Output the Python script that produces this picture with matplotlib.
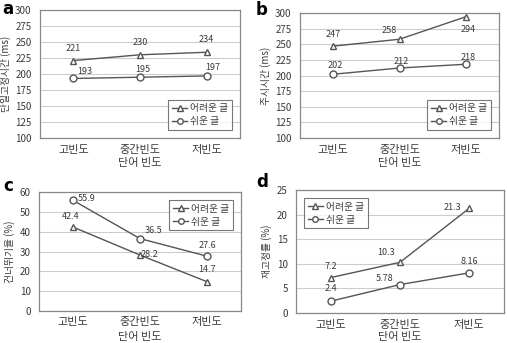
import matplotlib.pyplot as plt

plt.rcParams['font.family'] = ['Noto Sans CJK KR', 'DejaVu Sans']

categories = ['고빈도', '중간빈도', '저빈도']
labels = ['어려운 글', '쉬운 글']
xlabel = '단어 빈도'

a_hard = [221, 230, 234]
a_easy = [193, 195, 197]
b_hard = [247, 258, 294]
b_easy = [202, 212, 218]
c_hard = [42.4, 28.2, 14.7]
c_easy = [55.9, 36.5, 27.6]
d_hard = [7.2, 10.3, 21.3]
d_easy = [2.4, 5.78, 8.16]
d_hard_txt = ['7.2', '10.3', '21.3']
d_easy_txt = ['2.4', '5.78', '8.16']

W, H = 507, 343
fig = plt.figure(figsize=(W / 100, H / 100), dpi=100)

line_c = '#555555'
text_c = '#3a3a3a'


def make_ax(l, t, r, b):
    return fig.add_axes([l / W, 1 - b / H, (r - l) / W, (b - t) / H])


def panel(ax, hard, easy, hard_txt, easy_txt, hard_off, easy_off, ylim, yticks,
          ylabel, legloc, xpad, xlab_y):
    x = range(len(categories))
    ax.plot(x, hard, color=line_c, lw=1, marker='^', ms=5, mfc='white', mec=line_c,
            mew=1, label=labels[0], zorder=3)
    ax.plot(x, easy, color=line_c, lw=1, marker='o', ms=5, mfc='white', mec=line_c,
            mew=1, label=labels[1], zorder=3)
    for xi, v, t, off in zip(x, hard, hard_txt, hard_off):
        ax.annotate(t, (xi, v), xytext=off, textcoords='offset pixels', ha='center',
                    va='center', fontsize=6.5, color=text_c)
    for xi, v, t, off in zip(x, easy, easy_txt, easy_off):
        ax.annotate(t, (xi, v), xytext=off, textcoords='offset pixels', ha='center',
                    va='center', fontsize=6.5, color=text_c)
    ax.set_xlim(-0.5, 2.5)
    ax.set_ylim(*ylim)
    ax.set_yticks(yticks)
    ax.set_xticks(list(x))
    ax.set_xticklabels(categories, fontsize=8, color=text_c)
    ax.tick_params(axis='y', labelsize=7, colors=text_c, length=0, pad=6)
    ax.tick_params(axis='x', length=0, pad=xpad)
    ax.set_ylabel(ylabel, fontsize=7, color=text_c, labelpad=3)
    # x label placed by hand just under the tick labels
    ax.text(0.5, xlab_y, xlabel, transform=ax.transAxes, fontsize=8, color=text_c,
            ha='center', va='center')
    ax.grid(axis='y', color='#cccccc', lw=0.8)
    ax.set_axisbelow(True)
    for s in ax.spines.values():
        s.set_color('#888888')
        s.set_linewidth(0.9)
    leg = ax.legend(loc=legloc, fontsize=7, frameon=True, fancybox=False,
                    handlelength=1.6, borderpad=0.4, labelspacing=0.3,
                    handletextpad=0.3, borderaxespad=0.8, markerscale=0.8)
    leg.get_frame().set_edgecolor('#555555')
    leg.get_frame().set_linewidth(0.8)
    for t in leg.get_texts():
        t.set_color(text_c)


ax_a = make_ax(40, 10, 240, 138)
panel(ax_a, a_hard, a_easy, [str(v) for v in a_hard], [str(v) for v in a_easy],
      [(0, 12), (0, 12), (0, 13)], [(11, 7), (3, 8), (6, 8)],
      (100, 300), range(100, 301, 25), '단일고정시간 (ms)', 'lower right', 5,
      -25 / 128)

ax_b = make_ax(300, 13, 499, 138)
panel(ax_b, b_hard, b_easy, [str(v) for v in b_hard], [str(v) for v in b_easy],
      [(0, 12), (-10, 9), (2, -13)], [(2, 9), (2, 7), (2, 7)],
      (100, 300), range(100, 301, 25), '주시시간 (ms)', 'lower right', 5,
      -25 / 125)

ax_c = make_ax(39, 192, 241, 311)
panel(ax_c, c_hard, c_easy, [str(v) for v in c_hard], [str(v) for v in c_easy],
      [(-2, 10), (9, 1), (0, 12)], [(14, 2), (14, 8), (0, 11)],
      (0, 60), range(0, 61, 10), '건너뛰기율 (%)', 'upper right', 4,
      -26 / 119)

ax_d = make_ax(296, 190, 504, 313)
panel(ax_d, d_hard, d_easy, d_hard_txt, d_easy_txt,
      [(0, 11), (-14, 10), (-17, 1)], [(0, 13), (-15, 6), (0, 11)],
      (0, 25), range(0, 26, 5), '재고정률 (%)', 'upper left', 5,
      -24 / 123)

for letter, px, py in [('a', 2, 9), ('b', 256, 10), ('c', 3, 186), ('d', 256, 182)]:
    fig.text(px / W, 1 - py / H, letter, fontsize=12, fontweight='bold',
             va='center', ha='left', family='DejaVu Sans')

fig.savefig('out.png', dpi=100)
